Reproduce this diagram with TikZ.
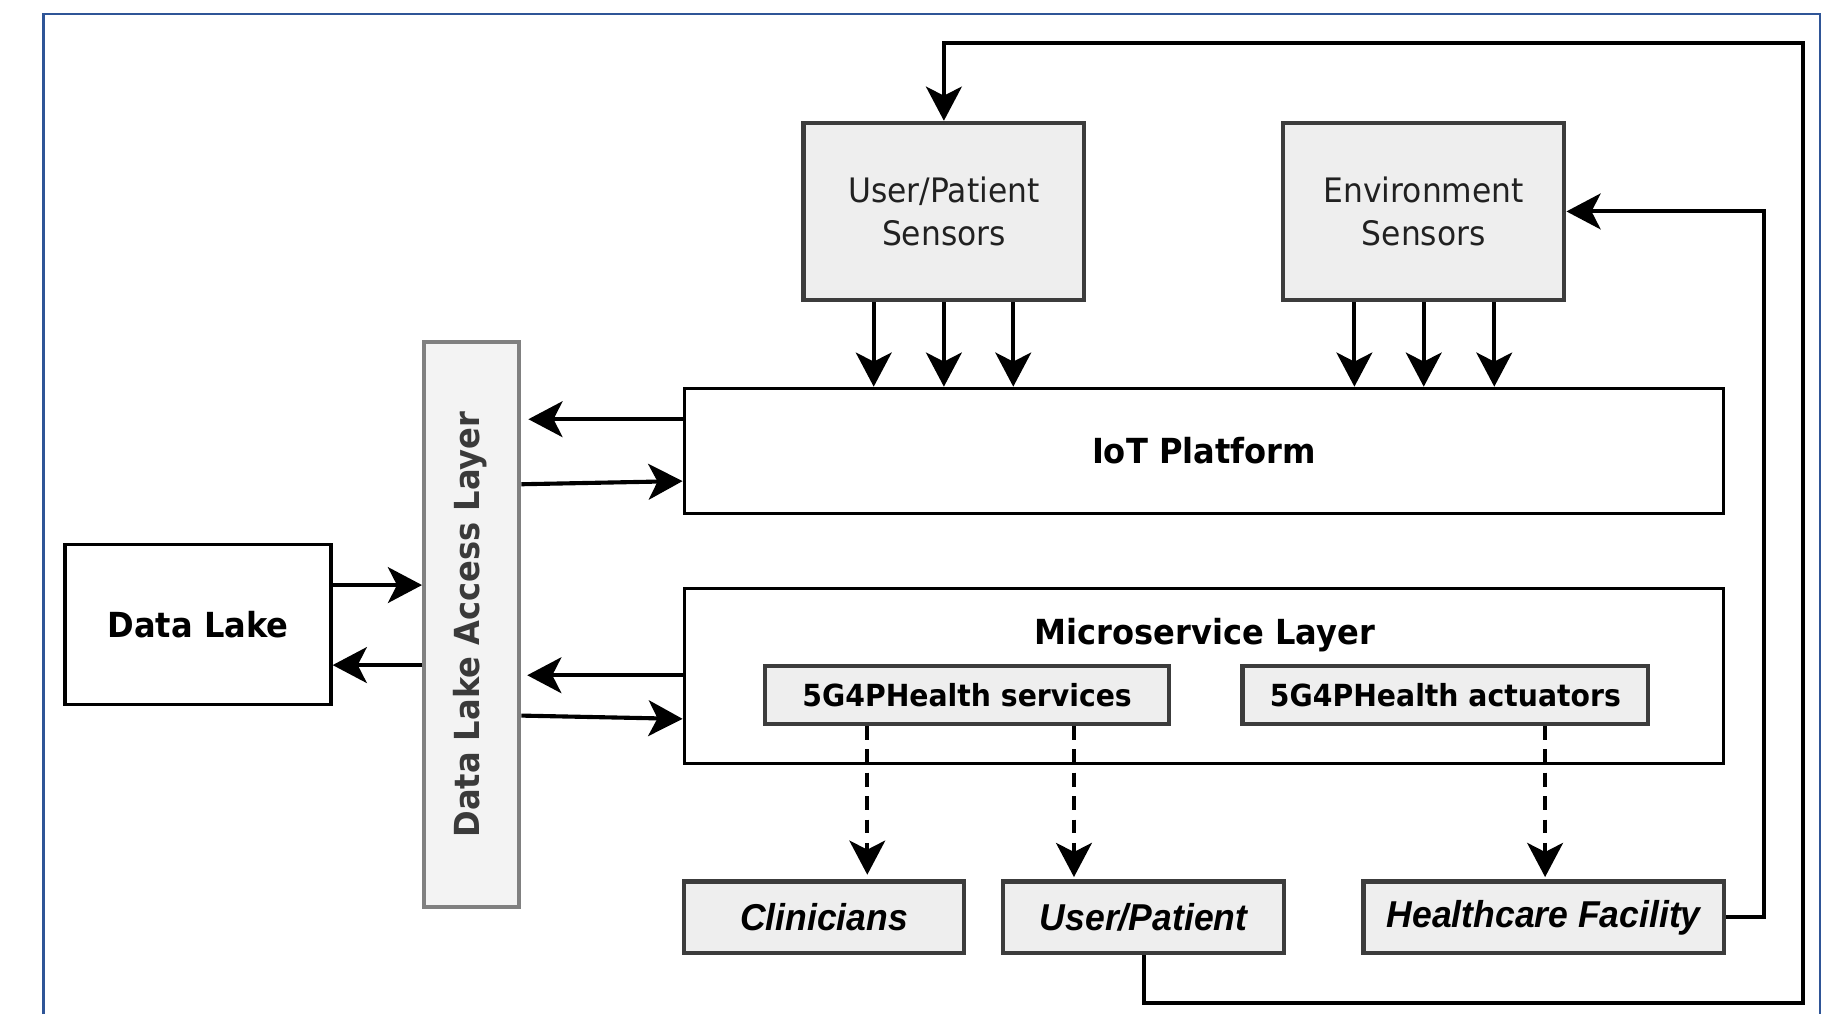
\documentclass[tikz,border=0pt]{standalone}
\usepackage{fontspec}
\usetikzlibrary{arrows.meta}
\newfontfamily\tah[FakeStretch=0.93]{DejaVu Sans}
\newfontfamily\ari[FakeStretch=0.95]{Liberation Sans}
\definecolor{frameblue}{HTML}{2F5597}
\definecolor{boxgray}{HTML}{EEEEEE}
\definecolor{boxedge}{HTML}{3C3C3C}
\definecolor{dlalfill}{HTML}{F3F3F3}
\definecolor{dlaledge}{HTML}{808080}
\definecolor{dlaltext}{HTML}{3A3A3A}
\tikzset{
  base/.style={inner sep=0pt, align=center},
  whitebox/.style={base, draw=black, line width=0.8pt, fill=white},
  graybox/.style={base, draw=boxedge, line width=1pt, fill=boxgray},
  arr/.style={draw=black, line width=1pt, -{Stealth[length=8.3pt, width=8.7pt, inset=2.2pt]}},
  darr/.style={arr, dash pattern=on 3.4pt off 2.3pt},
  fbold/.style={font=\tah\bfseries\fontsize{8.4}{10}\selectfont},
  fsmall/.style={font=\tah\bfseries\fontsize{7.4}{9}\selectfont},
  freg/.style={font=\tah\fontsize{8.2}{10.5}\selectfont, text=black!87},
  fital/.style={font=\ari\bfseries\itshape\fontsize{9.1}{11}\selectfont},
}
\begin{document}
\begin{tikzpicture}[x=0.1mm, y=-0.1mm]
\useasboundingbox (0,0) rectangle (1568,867);
% outer frame
\draw[frameblue, line width=0.6pt] (37,867) -- (37,12) -- (1556,12) -- (1556,867);

% nodes
\node[graybox, freg, minimum width=240mm/10, minimum height=151.5mm/10] (ups) at (807,180.75) {User/Patient\\Sensors};
\node[graybox, freg, minimum width=240.5mm/10, minimum height=151.5mm/10] (es) at (1217.25,180.75) {Environment\\Sensors};
\node[whitebox, fbold, minimum width=888.8mm/10, minimum height=107mm/10] (iot) at (1029.4,385.5) {IoT Platform};
\node[whitebox, minimum width=888.8mm/10, minimum height=149.6mm/10] (micro) at (1029.4,577.8) {};
\node[base, fbold] (microtitle) at (1030,542.7) {Microservice Layer};
\node[graybox, fsmall, minimum width=345.7mm/10, minimum height=49.5mm/10] (svc) at (826.85,594) {5G4PHealth services};
\node[graybox, fsmall, minimum width=346.9mm/10, minimum height=49.5mm/10] (act) at (1235.75,594) {5G4PHealth actuators};
\node[base, draw=dlaledge, line width=1pt, fill=dlalfill, minimum width=81.4mm/10, minimum height=482.7mm/10] (dlal) at (403.3,534) {};
\node[base, rotate=90, text=dlaltext, fbold] (dlaltxt) at (402,534) {Data Lake Access Layer};
\node[whitebox, fbold, minimum width=227.4mm/10, minimum height=136.9mm/10] (dl) at (169.3,534) {Data Lake};
\node[graybox, fital, minimum width=239mm/10, minimum height=61.4mm/10] (clin) at (704.5,784.3) {Clinicians};
\node[graybox, fital, minimum width=240.4mm/10, minimum height=61.4mm/10] (up) at (977.8,784.3) {User/Patient};
\node[graybox, fital, minimum width=308.3mm/10, minimum height=61.4mm/10] (hf) at (1319.85,784.3) {Healthcare Facility};

% helper coordinates
\coordinate (y1) at (0,358.4);
\coordinate (y2a) at (0,414);
\coordinate (y2b) at (0,411.3);
\coordinate (y3) at (0,500.2);
\coordinate (y4) at (0,568.6);
\coordinate (y5) at (0,577.3);
\coordinate (y6a) at (0,611.8);
\coordinate (y6b) at (0,614.6);
\coordinate (fbA) at (1508,180.75);
\coordinate (fbB) at (1541.5,857.3);
\coordinate (fbC) at (1541.5,37);

% sensor arrows
\foreach \s in {-6mm,0mm,5.93mm}
  \draw[arr] ([xshift=\s]ups.south) -- ([xshift=\s]ups.south |- iot.north);
\foreach \s in {-5.93mm,0mm,6.03mm}
  \draw[arr] ([xshift=\s]es.south) -- ([xshift=\s]es.south |- iot.north);

% platform <-> access layer
\draw[arr, shorten >=0.6mm] (iot.west |- y1) -- (dlal.east |- y1);
\draw[arr] (dlal.east |- y2a) -- (iot.west |- y2b);
\draw[arr, shorten >=0.5mm] (micro.west |- y5) -- (dlal.east |- y5);
\draw[arr] (dlal.east |- y6a) -- (micro.west |- y6b);

% data lake <-> access layer
\draw[arr] (dl.east |- y3) -- (dlal.west |- y3);
\draw[arr] (dlal.west |- y4) -- (dl.east |- y4);

% dashed service arrows
\draw[darr, shorten >=0.4mm] ([xshift=-8.535mm]svc.south) -- ([xshift=-8.535mm]svc.south |- clin.north);
\draw[darr, shorten >=0.2mm] ([xshift=9.135mm]svc.south) -- ([xshift=9.135mm]svc.south |- up.north);
\draw[darr, shorten >=0.2mm] ([xshift=8.525mm]act.south) -- ([xshift=8.525mm]act.south |- hf.north);

% feedback loops
\draw[arr] (hf.east) -| (fbA) -- (es.east);
\draw[arr] (up.south) |- (fbB) -- (fbC) -| (ups.north);
\end{tikzpicture}
\end{document}
